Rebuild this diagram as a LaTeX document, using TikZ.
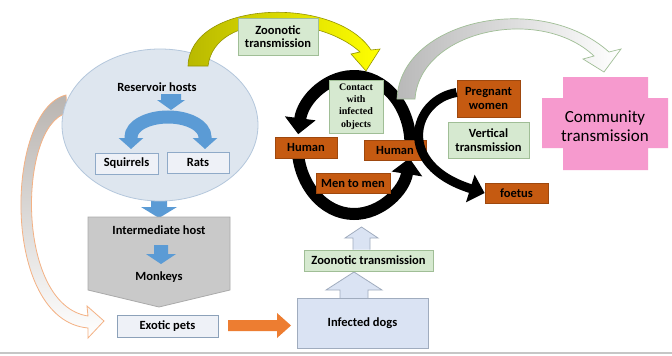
\documentclass[tikz,border=0pt]{standalone}
\usepackage{fontspec}
\setmainfont{Carlito}
\newfontfamily\cserif{Liberation Serif}
\usetikzlibrary{arrows.meta,shapes.geometric}
\definecolor{ellfill}{RGB}{222,230,239}
\definecolor{elldraw}{RGB}{180,199,220}
\definecolor{bblue}{RGB}{91,155,213}
\definecolor{sfill}{RGB}{238,241,247}
\definecolor{sdraw}{RGB}{143,170,200}
\definecolor{pgray}{RGB}{201,201,201}
\definecolor{pgraydraw}{RGB}{170,170,170}
\definecolor{gfill}{RGB}{214,233,208}
\definecolor{gdraw}{RGB}{160,190,150}
\definecolor{hbrown}{RGB}{197,90,17}
\definecolor{dogfill}{RGB}{218,227,243}
\definecolor{dogdraw}{RGB}{160,172,190}
\definecolor{orng}{RGB}{237,125,49}
\definecolor{cpink}{RGB}{246,154,206}
\definecolor{tanline}{RGB}{244,177,131}
\definecolor{yolive}{RGB}{185,185,0}
\begin{document}
\begin{tikzpicture}[x=1pt,y=-1pt,
  lbl/.style={inner sep=0pt,align=center,text=black,font=\bfseries\fontsize{12.5}{13.5}\selectfont},
  bx/.style={lbl,draw,line width=0.8pt},
  gbox/.style={bx,fill=gfill,draw=gdraw},
  hbox/.style={bx,fill=hbrown,draw=hbrown!80!black,text=black},
  sbox/.style={bx,fill=sfill,draw=sdraw},
  blk/.style={line width=12pt,black},
  blktip/.style={-{Triangle[width=30pt,length=16pt]}}
]
\useasboundingbox (0,0) rectangle (672,356);
\fill[white] (0,0) rectangle (672,356);
% bottom rule
\draw[line width=2pt,gray!45] (0,353) -- (672,353);

% left thin arrow to exotic pets
\path[top color={rgb,255:red,185;green,180;blue,176},bottom color=white,draw=tanline,line width=0.8pt]
  (66,95) .. controls (5,110) and (0,320) .. (88,328) -- (88,338) -- (104,321) -- (87,306) -- (88,316)
  .. controls (15,305) and (18,125) .. (67,113) -- cycle;

% blue arrow ellipse -> intermediate
\fill[bblue] (151,196) -- (167,196) -- (167,207) -- (177,207) -- (159,218) -- (141,207) -- (151,207) -- cycle;

% reservoir ellipse
\node[ellipse,draw=elldraw,fill=ellfill,line width=0.8pt,minimum width=196pt,minimum height=152pt,inner sep=0pt] (res) at (160,125) {};
\node[lbl] (reslbl) at (157,87) {Reservoir hosts};

% yellow arrow
\path[left color=yolive,right color=yellow,draw=yolive!80!black,line width=0.6pt]
  (188,66) .. controls (190,0) and (335,-5) .. (371,50) -- (380,49) -- (366,71) -- (351,54) -- (360,52)
  .. controls (320,15) and (215,10) .. (208,66) -- cycle;
\node[gbox,minimum width=80pt,minimum height=37pt] (ztop) at (278,36.5) {Zoonotic\\transmission};

% blue arch inside ellipse
\fill[bblue] (161,94) -- (181,94) -- (181,100) -- (185,100) -- (171,110) -- (157,100) -- (161,100) -- cycle;
\draw[bblue,line width=13pt,{Triangle[width=24pt,length=11pt]}-{Triangle[width=24pt,length=11pt]}]
  (131,149) -- (131,137) arc[start angle=180,end angle=360,x radius=37,y radius=20] -- (205,149);
\node[sbox,minimum width=63pt,minimum height=21pt] (squ) at (126.5,163.5) {Squirrels};
\node[sbox,minimum width=62pt,minimum height=21pt] (rats) at (198,162.5) {Rats};

% intermediate host pentagon
\draw[fill=pgray,draw=pgraydraw,line width=0.8pt] (88,217) -- (230,217) -- (230,290) -- (159,307) -- (88,290) -- cycle;
\node[lbl] (inter) at (159,230) {Intermediate host};
\fill[bblue] (154,245) -- (168,245) -- (168,254) -- (176,254) -- (161,264) -- (146,254) -- (154,254) -- cycle;
\node[lbl] (monk) at (159,277) {Monkeys};

% exotic pets, orange arrow, dogs
\node[bx,fill=sfill,draw=sdraw!80!gray,minimum width=101pt,minimum height=22pt] (exo) at (167.5,326) {Exotic pets};
\fill[orng] (228,320) -- (277,320) -- (277,313) -- (291,325.5) -- (277,338) -- (277,331) -- (228,331) -- cycle;
\draw[fill=dogfill,draw=dogdraw,line width=0.8pt] (340,300) -- (340,290) -- (326,290) -- (354,272) -- (382,290) -- (368,290) -- (368,300);
\node[bx,fill=dogfill,draw=dogdraw,minimum width=131pt,minimum height=50pt] (dogs) at (362.5,323) {Infected dogs};
\node[gbox,minimum width=129pt,minimum height=21pt] (zbot) at (368.5,260.5) {Zoonotic transmission};
\draw[fill=dogfill,draw=dogdraw,line width=0.8pt] (353,249.5) -- (353,238) -- (345,238) -- (361.5,227) -- (378,238) -- (370,238) -- (370,249.5);

% black loop
\coordinate (lc) at (354,145);
\draw[blk,blktip] (lc) ++(4:56.5 and 69) arc[start angle=4,end angle=-171,x radius=56.5,y radius=69];
\draw[blk,blktip] (lc) ++(180:56.5 and 69) arc[start angle=180,end angle=11,x radius=56.5,y radius=69];

% gray arrow to community
\path[left color=gray!55,right color=white,draw=gdraw,line width=0.7pt]
  (397,99) .. controls (400,20) and (540,-10) .. (609,52) -- (621,49) -- (604,72) -- (583,59) -- (594,56)
  .. controls (540,5) and (420,30) .. (415,99) -- cycle;

% boxes in loop
\node[gbox,minimum width=54pt,minimum height=53pt,font=\cserif\bfseries\fontsize{10}{12.3}\selectfont] (cont) at (356,106.5) {Contact\\with\\infected\\objects};
\node[hbox,minimum width=62pt,minimum height=21pt] (humL) at (306,147.5) {Human};
\node[hbox,minimum width=62pt,minimum height=20pt] (humR) at (395,150) {Human};
\node[hbox,minimum width=74pt,minimum height=20pt] (men) at (353,183) {Men to men};

% vertical transmission
\node[hbox,minimum width=63pt,minimum height=37pt] (preg) at (488.5,98.5) {Pregnant\\women};
\node[hbox,minimum width=63pt,minimum height=20pt] (foe) at (516.5,193) {foetus};
\draw[line width=9pt,-{Triangle[width=28pt,length=15pt]}] ([yshift=6pt]preg.west) .. controls (412,100) and (395,165) .. (foe.west);
\node[gbox,minimum width=81pt,minimum height=36pt] (vert) at (488.5,140) {Vertical\\transmission};

% community transmission cross
\fill[cpink] (563,77) -- (648,77) -- (648,98) -- (668,98) -- (668,148) -- (648,148) -- (648,170) -- (563,170) -- (563,148) -- (542,148) -- (542,98) -- (563,98) -- cycle;
\node[inner sep=0pt,align=center,font=\fontsize{17}{18.5}\selectfont] (comm) at (605,126) {Community\\transmission};
\end{tikzpicture}
\end{document}
